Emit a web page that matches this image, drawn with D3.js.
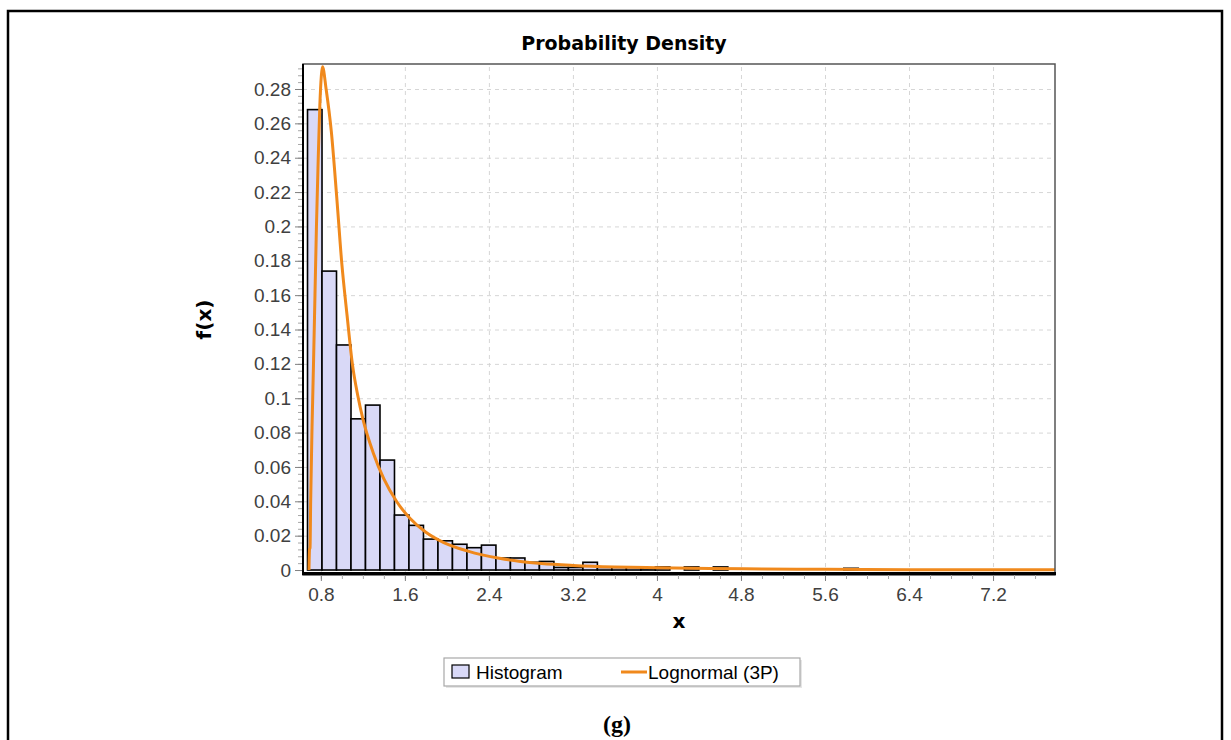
<!DOCTYPE html>
<html>
<head>
<meta charset="utf-8">
<script src="https://cdn.jsdelivr.net/npm/d3@7"></script>
<style>
body { margin: 0; background: #fff; }
</style>
</head>
<body>
<svg id="densityChart" width="1231" height="740"></svg>
<script>
// histogram: bin edges (one more than the bars) and density of each bin
var binEdges = [0.673, 0.811, 0.949, 1.087, 1.225, 1.363, 1.501, 1.639, 1.777, 1.915,
                2.053, 2.191, 2.329, 2.467, 2.605, 2.743, 2.881, 3.019, 3.157, 3.295,
                3.433, 3.571, 3.709, 3.847, 3.985, 4.123, 4.261, 4.399, 4.537, 4.675,
                4.813, 4.951, 5.089, 5.227, 5.365, 5.503, 5.641, 5.779, 5.917];
var binDensity = [0.268, 0.174, 0.131, 0.088, 0.096, 0.064, 0.032, 0.026, 0.018, 0.017,
                  0.015, 0.013, 0.0145, 0.007, 0.007, 0.0045, 0.005, 0.0015, 0.0015, 0.0045,
                  0.0015, 0.0015, 0.0015, 0.001, 0.0018, 0, 0.0018, 0, 0.0018, 0,
                  0, 0, 0, 0, 0, 0, 0, 0.001];

// fitted Lognormal (3P) density
var curveX = [0.687, 0.692, 0.697, 0.703, 0.716, 0.73, 0.744, 0.758, 0.773, 0.79, 0.805, 0.816,
              0.85, 0.9, 0.95, 1.0, 1.05, 1.1, 1.15, 1.2, 1.3, 1.4, 1.52, 1.65, 1.8, 1.97,
              2.2, 2.5, 2.7, 2.9, 3.2, 3.6, 4.0, 4.5, 5.0, 5.6, 6.4, 7.2, 7.79];
var curveY = [0, 0.012, 0.013, 0.04, 0.083, 0.12, 0.16, 0.2, 0.235, 0.27, 0.288, 0.293,
              0.28, 0.255, 0.218, 0.178, 0.148, 0.12, 0.102, 0.088, 0.068, 0.053, 0.04, 0.03, 0.022, 0.016,
              0.011, 0.0068, 0.005, 0.0038, 0.0027, 0.0018, 0.0013, 0.0009, 0.0006, 0.0004, 0.0002, 0.0001, 0.0001];

var xTicks = [0.8, 1.6, 2.4, 3.2, 4, 4.8, 5.6, 6.4, 7.2];
var yTicks = [0, 0.02, 0.04, 0.06, 0.08, 0.1, 0.12, 0.14, 0.16, 0.18, 0.2, 0.22, 0.24, 0.26, 0.28];
var legendNames = ["Histogram", "Lognormal (3P)"];

var svg = d3.select("#densityChart");
var plotL = 303, plotT = 64, plotR = 1055, plotB = 575;
var tickFont = "19px 'Liberation Sans', Arial, sans-serif";
var boldFont = "bold 20px 'DejaVu Sans', Verdana, sans-serif";
var barFill = "#d9d9f7";
var lineColor = "#f0891c";

var x = d3.scaleLinear().domain([0.63, 7.79]).range([plotL, plotR]);
var y = d3.scaleLinear().domain([-0.0029, 0.29455]).range([plotB, plotT]);

// frame around the whole figure (open at the bottom, cut by the page)
svg.append("path")
   .attr("d", "M8,740 V11 H1222 V740")
   .attr("fill", "none")
   .attr("stroke", "#000")
   .attr("stroke-width", 2.5);

svg.append("text")
   .attr("x", 624)
   .attr("y", 50)
   .attr("text-anchor", "middle")
   .style("font", "bold 19px 'DejaVu Sans', Verdana, sans-serif")
   .text("Probability Density");

// dashed grid
var gridX = svg.append("g")
               .attr("transform", "translate(0," + plotB + ")")
               .call(d3.axisBottom(x).tickValues(xTicks).tickSize(-(plotB - plotT)).tickFormat(""));
var gridY = svg.append("g")
               .attr("transform", "translate(" + plotL + ",0)")
               .call(d3.axisLeft(y).tickValues(yTicks.slice(1)).tickSize(-(plotR - plotL)).tickFormat(""));
[gridX, gridY].forEach(function(g) {
	g.select(".domain").remove();
	g.selectAll("line")
	 .attr("stroke", "#d6d6d6")
	 .attr("stroke-width", 1)
	 .attr("stroke-dasharray", "4,4");
});

// histogram bars
svg.append("g")
   .selectAll("rect")
   .data(binDensity.map(function(d, i) { return {lo: binEdges[i], hi: binEdges[i + 1], v: d}; })
                   .filter(function(d) { return d.v > 0; }))
   .enter()
   .append("rect")
   .attr("x", function(d) { return x(d.lo); })
   .attr("width", function(d) { return x(d.hi) - x(d.lo); })
   .attr("y", function(d) { return y(d.v); })
   .attr("height", function(d) { return y(0) - y(d.v); })
   .attr("fill", barFill)
   .attr("stroke", "#000")
   .attr("stroke-width", 1.6);

// fitted curve
svg.append("clipPath").attr("id", "plotClip")
   .append("rect")
   .attr("x", plotL).attr("y", plotT)
   .attr("width", plotR - plotL).attr("height", plotB - plotT);

var line = d3.line()
             .x(function(d) { return x(d[0]); })
             .y(function(d) { return y(d[1]); })
             .curve(d3.curveMonotoneX);
svg.append("path")
   .datum(curveX.map(function(d, i) { return [d, curveY[i]]; }))
   .attr("clip-path", "url(#plotClip)")
   .attr("d", line)
   .attr("fill", "none")
   .attr("stroke", lineColor)
   .attr("stroke-width", 3)
   .attr("stroke-linejoin", "round");

// plot outline + axis lines
svg.append("rect")
   .attr("x", plotL).attr("y", plotT)
   .attr("width", plotR - plotL).attr("height", plotB - plotT)
   .attr("fill", "none")
   .attr("stroke", "#555")
   .attr("stroke-width", 1.5);
svg.append("line")
   .attr("x1", plotL).attr("x2", plotL).attr("y1", plotT).attr("y2", plotB)
   .attr("stroke", "#000").attr("stroke-width", 2);
svg.append("line")
   .attr("x1", plotL - 1).attr("x2", plotR + 1).attr("y1", plotB - 1.5).attr("y2", plotB - 1.5)
   .attr("stroke", "#000").attr("stroke-width", 3);

// minor ticks
var yMinor = d3.range(0, 0.2945, 0.004);
var xMinor = d3.range(0.8, 7.79, 0.2);
var minorY = svg.append("g")
                .attr("transform", "translate(" + (plotL - 1) + ",0)")
                .call(d3.axisLeft(y).tickValues(yMinor).tickSize(4).tickFormat(""));
var minorX = svg.append("g")
                .attr("transform", "translate(0," + plotB + ")")
                .call(d3.axisBottom(x).tickValues(xMinor).tickSize(4).tickFormat(""));
[minorX, minorY].forEach(function(g) {
	g.select(".domain").remove();
	g.selectAll("line").attr("stroke", "#a8a8a8");
});

// major ticks and labels
var yAxis = svg.append("g")
               .attr("transform", "translate(" + (plotL - 1) + ",0)")
               .call(d3.axisLeft(y).tickValues(yTicks).tickSize(7).tickPadding(4).tickFormat(d3.format("~g")));
var xAxis = svg.append("g")
               .attr("transform", "translate(0," + plotB + ")")
               .call(d3.axisBottom(x).tickValues(xTicks).tickSize(6).tickPadding(7).tickFormat(d3.format("~g")));
[xAxis, yAxis].forEach(function(g) {
	g.select(".domain").remove();
	g.selectAll("line").attr("stroke", "#808080");
	g.selectAll("text").attr("fill", "#404040").style("font", tickFont);
});

// axis labels
svg.append("text")
   .attr("x", (plotL + plotR) / 2)
   .attr("y", 628)
   .attr("text-anchor", "middle")
   .style("font", boldFont)
   .text("x");
svg.append("text")
   .attr("transform", "translate(211," + (plotT + plotB) / 2 + ") rotate(-90)")
   .attr("text-anchor", "middle")
   .style("font", boldFont)
   .text("f(x)");

// legend
var legend = svg.append("g");
legend.append("rect")
      .attr("x", 446).attr("y", 660).attr("width", 356).attr("height", 28)
      .attr("fill", "#e6e6e6");
legend.append("rect")
      .attr("x", 444).attr("y", 658).attr("width", 356).attr("height", 28)
      .attr("fill", "#fff").attr("stroke", "#a8a8a8").attr("stroke-width", 1.2);
legend.append("rect")
      .attr("x", 452).attr("y", 665).attr("width", 17).attr("height", 13)
      .attr("fill", barFill).attr("stroke", "#000").attr("stroke-width", 1.2);
legend.append("text")
      .attr("x", 476).attr("y", 679)
      .style("font", tickFont).attr("fill", "#000")
      .text(legendNames[0]);
legend.append("line")
      .attr("x1", 621).attr("x2", 647).attr("y1", 672).attr("y2", 672)
      .attr("stroke", lineColor).attr("stroke-width", 3);
legend.append("text")
      .attr("x", 648).attr("y", 679)
      .style("font", tickFont).attr("fill", "#000")
      .text(legendNames[1]);

// figure caption
svg.append("text")
   .attr("x", 617)
   .attr("y", 732)
   .attr("text-anchor", "middle")
   .style("font", "bold 24px 'Liberation Serif', 'Times New Roman', serif")
   .text("(g)");
</script>
</body>
</html>
